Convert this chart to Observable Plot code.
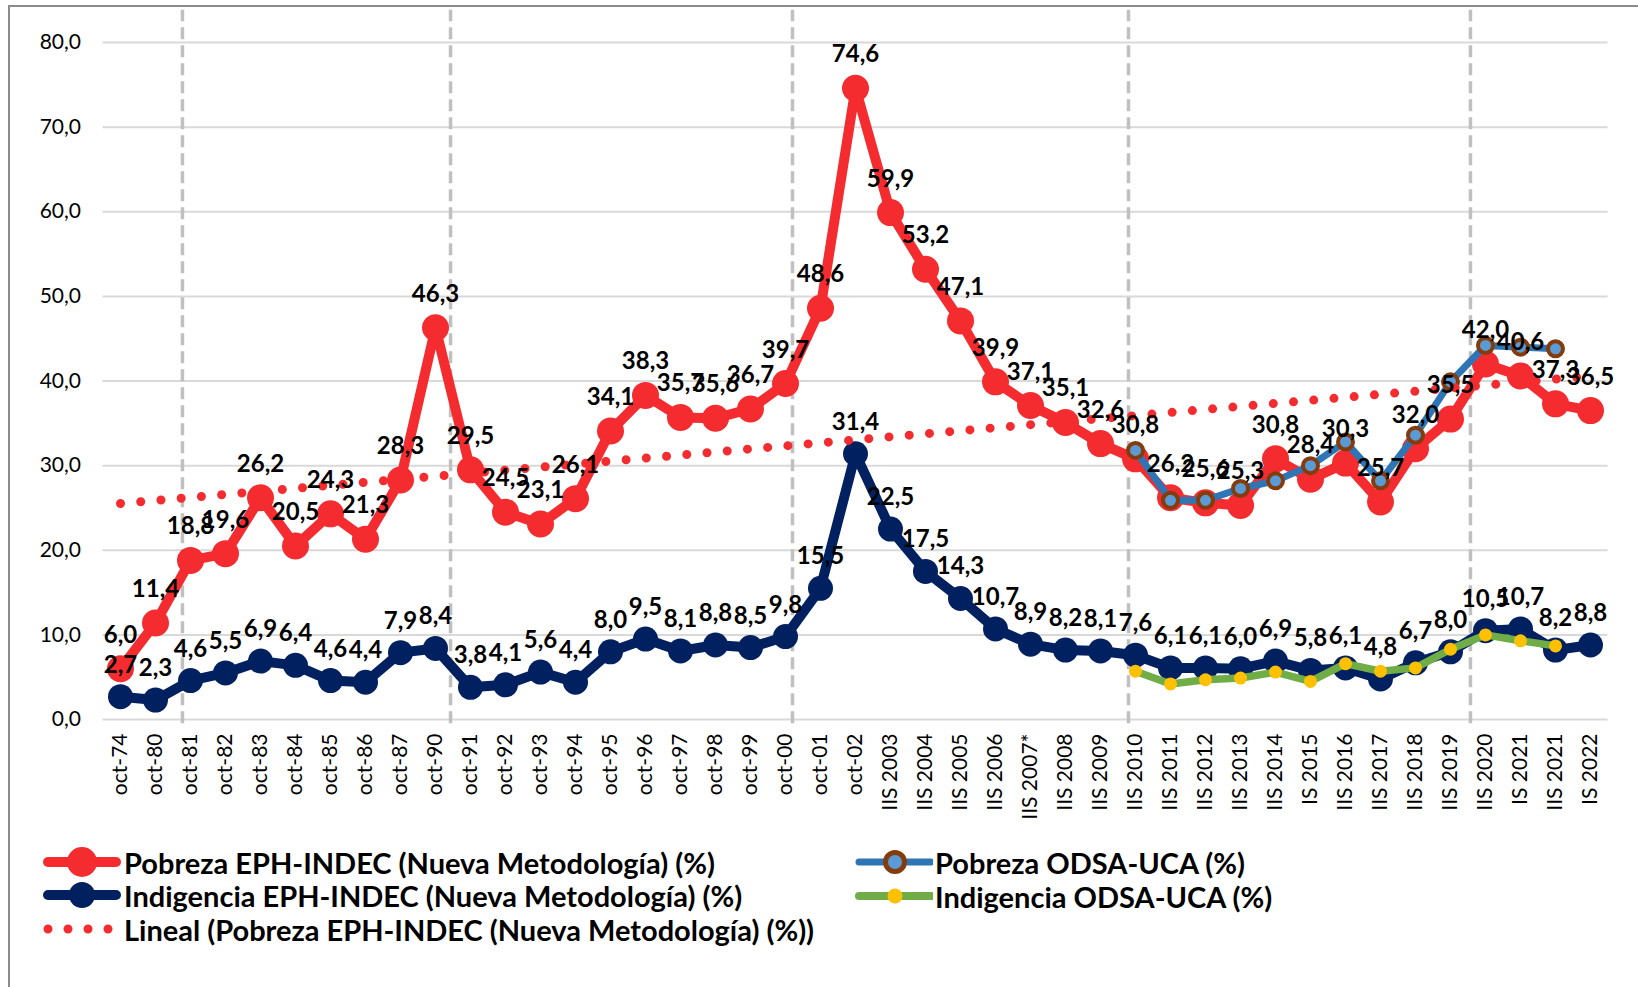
<!DOCTYPE html>
<html><head><meta charset="utf-8">
<script src="https://cdn.jsdelivr.net/npm/d3@7"></script>
<script src="https://cdn.jsdelivr.net/npm/@observablehq/plot@0.6"></script>
<style>
html,body{margin:0;padding:0;background:#fff;overflow:hidden;}
#wrap{position:relative;width:1638px;height:987px;font-family:Lato,sans-serif;overflow:hidden;}
#frame{position:absolute;left:8px;top:5px;width:1700px;height:1100px;border:2px solid #8c8c8c;box-sizing:border-box;}
#chart{position:absolute;left:0;top:0;}
.leg{position:absolute;display:flex;align-items:center;font-weight:700;font-size:29px;color:#000;white-space:nowrap;line-height:1;}
.leg svg{margin-right:2px;}
</style></head><body>
<div id="wrap"><div id="frame"></div><div id="chart"></div><div id="legend"></div></div>
<script>
const categories = ["oct-74","oct-80","oct-81","oct-82","oct-83","oct-84","oct-85","oct-86","oct-87","oct-90",
  "oct-91","oct-92","oct-93","oct-94","oct-95","oct-96","oct-97","oct-98","oct-99","oct-00","oct-01","oct-02",
  "IIS 2003","IIS 2004","IIS 2005","IIS 2006","IIS 2007*","IIS 2008","IIS 2009","IIS 2010","IIS 2011","IIS 2012",
  "IIS 2013","IIS 2014","IS 2015","IIS 2016","IIS 2017","IIS 2018","IIS 2019","IIS 2020","IS 2021","IIS 2021","IS 2022"];
const pobrezaEPH = [6.0,11.4,18.8,19.6,26.2,20.5,24.3,21.3,28.3,46.3,
  29.5,24.5,23.1,26.1,34.1,38.3,35.7,35.6,36.7,39.7,48.6,74.6,
  59.9,53.2,47.1,39.9,37.1,35.1,32.6,30.8,26.2,25.6,
  25.3,30.8,28.4,30.3,25.7,32.0,35.5,42.0,40.6,37.3,36.5];
const indigenciaEPH = [2.7,2.3,4.6,5.5,6.9,6.4,4.6,4.4,7.9,8.4,
  3.8,4.1,5.6,4.4,8.0,9.5,8.1,8.8,8.5,9.8,15.5,31.4,
  22.5,17.5,14.3,10.7,8.9,8.2,8.1,7.6,6.1,6.1,
  6.0,6.9,5.8,6.1,4.8,6.7,8.0,10.5,10.7,8.2,8.8];
const odsaCategories = ["IIS 2010","IIS 2011","IIS 2012","IIS 2013","IIS 2014","IS 2015","IIS 2016","IIS 2017",
  "IIS 2018","IIS 2019","IIS 2020","IS 2021","IIS 2021"];
const pobrezaODSA = [31.8,25.9,25.9,27.3,28.2,30.0,32.8,28.2,33.6,39.9,44.2,44.0,43.8];
const indigenciaODSA = [5.7,4.2,4.7,4.9,5.6,4.5,6.6,5.7,6.1,8.3,10.0,9.3,8.7];
const yTicks = [0,10,20,30,40,50,60,70,80];
const breakPositions = [1.77, 9.43, 19.2, 28.8, 38.57];

const fmt = v => v.toFixed(1).replace(".", ",");
const eph = categories.map((c, i) => ({i, cat: c, pob: pobrezaEPH[i], ind: indigenciaEPH[i]}));
const odsa = odsaCategories.map((c, k) => ({i: categories.indexOf(c), pob: pobrezaODSA[k], ind: indigenciaODSA[k]}));

const RED = "#F42C2F", NAVY = "#002060", BLUE = "#2E75B6", LBLUE = "#5B9BD5", BROWN = "#843C0C", GREEN = "#70AD47", YELLOW = "#FFC000";

const chart = Plot.plot({
  width: 1638, height: 830,
  marginTop: 42, marginBottom: 111, marginLeft: 102.5, marginRight: 30.5,
  style: {fontFamily: "Lato, sans-serif", fontSize: "21px", color: "#000", background: "transparent", overflow: "visible"},
  x: {type: "linear", domain: [-0.5, 42.5], label: null},
  y: {domain: [0, 80], label: null},
  marks: [
    Plot.gridY(yTicks, {stroke: "#D9D9D9", strokeOpacity: 1, strokeWidth: 2}),
    Plot.ruleX(breakPositions, {y1: -0.5, y2: 83.8, stroke: "#C0C0C0", strokeWidth: 3.5, strokeDasharray: "12 6"}),
    Plot.line(eph, {x: "i", y: "pob", stroke: RED, strokeWidth: 10, strokeLinejoin: "round"}),
    Plot.dot(eph, {x: "i", y: "pob", r: 13.5, fill: RED}),
    Plot.line(eph, {x: "i", y: "ind", stroke: NAVY, strokeWidth: 10, strokeLinejoin: "round"}),
    Plot.dot(eph, {x: "i", y: "ind", r: 12.5, fill: NAVY}),
    Plot.line(odsa, {x: "i", y: "pob", stroke: BLUE, strokeWidth: 7, strokeLinejoin: "round"}),
    Plot.dot(odsa, {x: "i", y: "pob", r: 7.5, fill: LBLUE, stroke: BROWN, strokeWidth: 4}),
    Plot.line(odsa, {x: "i", y: "ind", stroke: GREEN, strokeWidth: 7.5, strokeLinejoin: "round"}),
    Plot.dot(odsa, {x: "i", y: "ind", r: 6.5, fill: YELLOW}),
    Plot.linearRegressionY(eph, {x: "i", y: "pob", ci: 0, stroke: RED, strokeWidth: 9, strokeDasharray: "0 20.3", strokeLinecap: "round"}),
    Plot.text(eph, {x: "i", y: "pob", text: d => fmt(d.pob), dy: -26, lineAnchor: "bottom", fontWeight: 700, fontSize: 24, fill: "#000"}),
    Plot.text(eph, {x: "i", y: "ind", text: d => fmt(d.ind), dy: -24, lineAnchor: "bottom", fontWeight: 700, fontSize: 24, fill: "#000"}),
    Plot.axisY(yTicks, {tickFormat: fmt, tickSize: 0, tickPadding: 22, fontSize: 21, label: null}),
    Plot.axisX(d3.range(categories.length), {tickFormat: i => categories[i], tickRotate: -90, tickSize: 0, tickPadding: 14, fontSize: 21, label: null})
  ]
});
document.getElementById("chart").appendChild(chart);

const legendItems = [
  {label: "Pobreza EPH-INDEC (Nueva Metodología) (%)", x: 42, y: 862,
   sw: `<svg width="80" height="34"><line x1="6" y1="17" x2="74" y2="17" stroke="${RED}" stroke-width="10" stroke-linecap="round"/><circle cx="40" cy="17" r="15" fill="${RED}"/></svg>`},
  {label: "Indigencia EPH-INDEC (Nueva Metodología) (%)", x: 42, y: 895,
   sw: `<svg width="80" height="34"><line x1="6" y1="17" x2="74" y2="17" stroke="${NAVY}" stroke-width="10" stroke-linecap="round"/><circle cx="40" cy="17" r="13" fill="${NAVY}"/></svg>`},
  {label: "Lineal (Pobreza EPH-INDEC (Nueva Metodología) (%))", x: 42, y: 929,
   sw: `<svg width="80" height="34"><line x1="6" y1="17" x2="74" y2="17" stroke="${RED}" stroke-width="9" stroke-linecap="round" stroke-dasharray="0 20"/></svg>`},
  {label: "Pobreza ODSA-UCA (%)", x: 853, y: 862,
   sw: `<svg width="80" height="34"><line x1="6" y1="17" x2="78" y2="17" stroke="${BLUE}" stroke-width="7" stroke-linecap="round"/><circle cx="42" cy="17" r="9.5" fill="${LBLUE}" stroke="${BROWN}" stroke-width="5"/></svg>`},
  {label: "Indigencia ODSA-UCA (%)", x: 853, y: 896,
   sw: `<svg width="80" height="34"><line x1="6" y1="17" x2="78" y2="17" stroke="${GREEN}" stroke-width="8" stroke-linecap="round"/><circle cx="42" cy="17" r="7.5" fill="${YELLOW}"/></svg>`}
];
const leg = document.getElementById("legend");
for (const it of legendItems) {
  const d = document.createElement("div");
  d.className = "leg";
  d.style.left = it.x + "px";
  d.style.top = (it.y - 17) + "px";
  d.innerHTML = it.sw + `<span>${it.label}</span>`;
  leg.appendChild(d);
}
</script>
</body></html>
